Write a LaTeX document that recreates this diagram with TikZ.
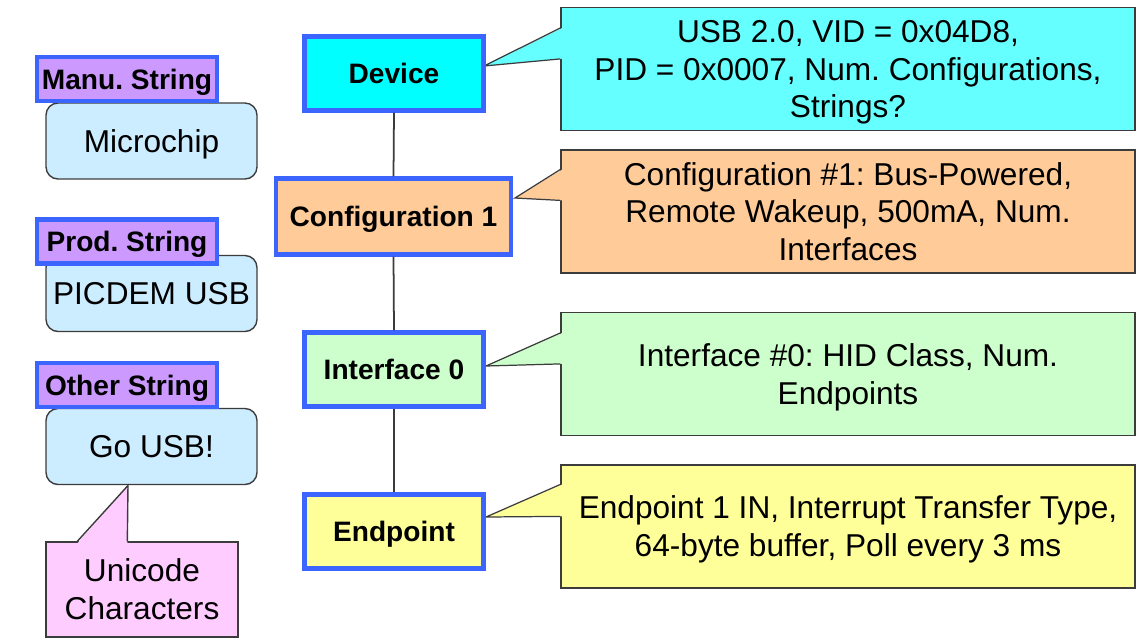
\documentclass[tikz,border=0pt]{standalone}
\usepackage{fontspec}
\setmainfont{Liberation Sans}
\frenchspacing
\usetikzlibrary{positioning,calc}
\definecolor{usbBlue}{RGB}{60,100,255}
\definecolor{devFill}{RGB}{0,255,255}
\definecolor{devNote}{RGB}{102,255,255}
\definecolor{cfgFill}{RGB}{255,204,153}
\definecolor{ifcFill}{RGB}{204,255,204}
\definecolor{eptFill}{RGB}{255,255,153}
\definecolor{strHead}{RGB}{204,153,255}
\definecolor{strFill}{RGB}{204,236,255}
\definecolor{uniFill}{RGB}{255,204,255}
\definecolor{lineGray}{RGB}{60,60,60}

\tikzset{
  level/.style={draw=usbBlue, line width=2.4pt, inner sep=0pt,
    text height=11.5pt, text depth=0pt,
    font=\fontsize{16}{19}\selectfont\bfseries},
  note/.style={draw=lineGray, line width=0.7pt, inner sep=0pt, align=center,
    minimum width=11.48cm, minimum height=2.46cm, text depth=-2.8pt,
    font=\fontsize{18}{21.6}\selectfont},
  strhead/.style={draw=usbBlue, line width=2.4pt, fill=strHead, inner sep=0pt,
    minimum width=3.6cm, minimum height=0.88cm,
    text height=11.5pt, text depth=0pt,
    font=\fontsize{16}{19}\selectfont\bfseries},
  strbox/.style={draw=lineGray, line width=0.8pt, fill=strFill, rounded corners=0.24cm,
    inner sep=0pt, minimum width=4.22cm, minimum height=1.52cm,
    text height=12.9pt, text depth=0pt,
    font=\fontsize{18}{21.6}\selectfont},
  wedge/.style={draw=lineGray, line width=0.7pt}
}

\begin{document}
\begin{tikzpicture}[x=0.02cm, y=-0.02cm]
    \fill[white] (0,0) rectangle (1137,640);
    \useasboundingbox (0,0) rectangle (1137,640);

    % descriptor notes
    \node[note, fill=devNote] (devnote) at (848,69)
      {USB 2.0, VID = 0x04D8,\\PID = 0x0007, Num. Configurations,\\Strings?};
    \node[note, fill=cfgFill] (cfgnote) at (848,211.5)
      {Configuration \#1: Bus-Powered,\\Remote Wakeup, 500mA, Num.\\Interfaces};
    \node[note, fill=ifcFill] (ifcnote) at (848,374)
      {Interface \#0: HID Class, Num.\\Endpoints};
    \node[note, fill=eptFill] (eptnote) at (848,526.5)
      {Endpoint 1 IN, Interrupt Transfer Type,\\64-byte buffer, Poll every 3 ms};

    \coordinate (devtip) at (484,66);
    \coordinate (cfgtip) at (515,198);
    \coordinate (ifctip) at (486,366);
    \coordinate (epttip) at (486,517);

    \fill[devNote] (devtip) -- ($(devnote.north west)+(2,21)$) -- ($(devnote.north west)+(2,52)$) -- cycle;
    \draw[wedge] ($(devnote.north west)+(0,21)$) -- (devtip) -- ($(devnote.north west)+(0,52)$);
    \fill[cfgFill] (cfgtip) -- ($(cfgnote.north west)+(2,20)$) -- ($(cfgnote.north west)+(2,51)$) -- cycle;
    \draw[wedge] ($(cfgnote.north west)+(0,20)$) -- (cfgtip) -- ($(cfgnote.north west)+(0,51)$);
    \fill[ifcFill] (ifctip) -- ($(ifcnote.north west)+(2,21)$) -- ($(ifcnote.north west)+(2,52)$) -- cycle;
    \draw[wedge] ($(ifcnote.north west)+(0,21)$) -- (ifctip) -- ($(ifcnote.north west)+(0,52)$);
    \fill[eptFill] (epttip) -- ($(eptnote.north west)+(2,20)$) -- ($(eptnote.north west)+(2,52)$) -- cycle;
    \draw[wedge] ($(eptnote.north west)+(0,20)$) -- (epttip) -- ($(eptnote.north west)+(0,52)$);

    % descriptor hierarchy
    \node[level, fill=devFill, minimum width=3.58cm, minimum height=1.48cm] (dev) at (394,73.5) {Device};
    \node[level, fill=cfgFill, minimum width=4.7cm, minimum height=1.52cm] (cfg) at (393.5,216.5) {Configuration 1};
    \node[level, fill=ifcFill, minimum width=3.58cm, minimum height=1.48cm] (ifc) at (394,369.5) {Interface 0};
    \node[level, fill=eptFill, minimum width=3.58cm, minimum height=1.48cm] (ept) at (394,531.5) {Endpoint};
    \draw[lineGray, line width=1pt] (dev.south) -- (cfg.north);
    \draw[lineGray, line width=1pt] (cfg.south) -- (ifc.north);
    \draw[lineGray, line width=1pt] (ifc.south) -- (ept.north);

    % string descriptors
    \node[strbox] (manu) at (151.5,141) {Microchip};
    \node[strbox] (prod) at (151.5,293.5) {PICDEM USB};
    \node[strbox] (other) at (151.5,446.5) {Go USB!};
    \node[strhead] (manuhead) at (127,79) {Manu. String};
    \node[strhead] (prodhead) at (127,241.5) {Prod. String};
    \node[strhead] (otherhead) at (127,385) {Other String};

    \node[note, fill=uniFill, line width=0.8pt, minimum width=3.84cm, minimum height=1.9cm] (uni) at (142,589.5)
      {Unicode\\Characters};
    \coordinate (unitip) at (128,485.5);
    \fill[uniFill] (unitip) -- ($(uni.north west)+(32,2)$) -- ($(uni.north west)+(82,2)$) -- cycle;
    \draw[wedge, line width=0.8pt] ($(uni.north west)+(32,0)$) -- (unitip) -- ($(uni.north west)+(82,0)$);
\end{tikzpicture}
\end{document}
